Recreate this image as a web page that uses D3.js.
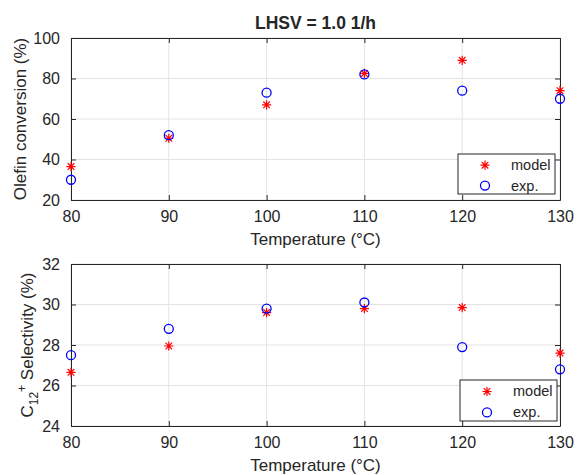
<!DOCTYPE html>
<html>
<head>
<meta charset="utf-8">
<script src="https://cdn.jsdelivr.net/npm/d3@7"></script>
<style>
  body { margin: 0; background: #fff; }
  text { font-family: "Liberation Sans", Arial, sans-serif; fill: #262626; }
</style>
</head>
<body>
<div id="chart-area"></div>
<script>
const temps = [80, 90, 100, 110, 120, 130];
const conversionModel = [36.5, 50.5, 67, 82.5, 89, 74];
const conversionExp = [30, 52, 73, 82, 74, 70];
const selectivityModel = [26.65, 27.95, 29.6, 29.8, 29.85, 27.6];
const selectivityExp = [27.5, 28.8, 29.8, 30.1, 27.9, 26.8];

const xTicks = [80, 90, 100, 110, 120, 130];
const conversionTicks = [20, 40, 60, 80, 100];
const selectivityTicks = [24, 26, 28, 30, 32];
const seriesNames = ['model', 'exp.'];

const W = 577, H = 475;
const left = 71, right = 560;

const svg = d3.select('#chart-area')
    .append('svg')
        .attr('width', W)
        .attr('height', H);

const x = d3.scaleLinear().domain([80, 130]).range([left, right]);

// eight-armed star like matlab's '*'
function starPath(r) {
    const d = r * 0.72;
    return `M${-r},0L${r},0M0,${-r}L0,${r}M${-d},${-d}L${d},${d}M${-d},${d}L${d},${-d}`;
}

function drawPanel(cfg) {
    const g = svg.append('g');
    const y = d3.scaleLinear().domain(cfg.domain).range([cfg.bottom, cfg.top]);

    // grid
    g.selectAll('.vgrid').data(xTicks).enter().append('line')
        .attr('x1', d => x(d)).attr('x2', d => x(d))
        .attr('y1', cfg.top).attr('y2', cfg.bottom)
        .attr('stroke', '#e3e3e3').attr('stroke-width', 1);
    g.selectAll('.hgrid').data(cfg.ticks).enter().append('line')
        .attr('x1', left).attr('x2', right)
        .attr('y1', d => y(d)).attr('y2', d => y(d))
        .attr('stroke', '#e3e3e3').attr('stroke-width', 1);

    // axes, ticks inside on every side
    const axes = [
        [d3.axisBottom(x).tickValues(xTicks), `translate(0,${cfg.bottom})`, true],
        [d3.axisTop(x).tickValues(xTicks), `translate(0,${cfg.top})`, false],
        [d3.axisLeft(y).tickValues(cfg.ticks), `translate(${left},0)`, true],
        [d3.axisRight(y).tickValues(cfg.ticks), `translate(${right},0)`, false]
    ];
    axes.forEach(([ax, tr, labels]) => {
        const a = g.append('g')
            .attr('transform', tr)
            .call(ax.tickSizeInner(-5).tickSizeOuter(0).tickPadding(labels ? 11 : 0));
        a.select('.domain').attr('stroke', '#262626').attr('stroke-width', 1);
        a.selectAll('.tick line').attr('stroke', '#262626');
        a.selectAll('text')
            .attr('font-size', '16px')
            .attr('fill', '#262626')
            .style('display', labels ? null : 'none');
    });
    g.selectAll('.tick text').attr('font-family', '"Liberation Sans", Arial, sans-serif');

    // markers
    g.selectAll('.model').data(cfg.model).enter().append('path')
        .attr('d', starPath(4.6))
        .attr('transform', (d, i) => `translate(${x(temps[i])},${y(d)})`)
        .attr('stroke', '#ff0000').attr('stroke-width', 1.2).attr('fill', 'none');
    g.selectAll('.exp').data(cfg.exp).enter().append('circle')
        .attr('cx', (d, i) => x(temps[i]))
        .attr('cy', d => y(d))
        .attr('r', 4.5)
        .attr('stroke', '#0000ff').attr('stroke-width', 1.3).attr('fill', 'none');

    // x label
    g.append('text')
        .attr('x', (left + right) / 2)
        .attr('y', cfg.bottom + 45)
        .attr('font-size', '17px')
        .attr('text-anchor', 'middle')
        .text('Temperature (°C)');

    // y label
    const yl = g.append('text')
        .attr('transform', `translate(${cfg.ylabelX},${(cfg.top + cfg.bottom) / 2}) rotate(-90)`)
        .attr('font-size', '17px')
        .attr('text-anchor', 'middle');
    cfg.ylabel(yl);

    // legend
    const lg = g.append('g').attr('transform', `translate(${cfg.legend[0]},${cfg.legend[1]})`);
    lg.append('rect')
        .attr('width', cfg.legend[2]).attr('height', cfg.legend[3])
        .attr('fill', '#fff').attr('stroke', '#262626').attr('stroke-width', 1);
    seriesNames.forEach((name, i) => {
        const cy = cfg.legend[3] * (i === 0 ? 0.28 : 0.79);
        if (i === 0) {
            lg.append('path').attr('d', starPath(4.6))
                .attr('transform', `translate(27,${cy})`)
                .attr('stroke', '#ff0000').attr('stroke-width', 1.2);
        } else {
            lg.append('circle').attr('cx', 27).attr('cy', cy).attr('r', 4.5)
                .attr('stroke', '#0000ff').attr('stroke-width', 1.3).attr('fill', 'none');
        }
        lg.append('text')
            .attr('x', 53).attr('y', cy + 5)
            .attr('font-size', '14.5px')
            .text(name);
    });
    return g;
}

drawPanel({
    top: 38, bottom: 200, domain: [20, 100], ticks: conversionTicks,
    model: conversionModel, exp: conversionExp,
    ylabelX: 26,
    ylabel: t => t.text('Olefin conversion (%)'),
    legend: [458, 154, 97, 40]
});

drawPanel({
    top: 264, bottom: 426, domain: [24, 32], ticks: selectivityTicks,
    model: selectivityModel, exp: selectivityExp,
    ylabelX: 33,
    ylabel: t => {
        t.append('tspan').text('C');
        t.append('tspan').attr('font-size', '12px').attr('dy', 5).text('12');
        t.append('tspan').attr('font-size', '12px').attr('dy', -12).text('+');
        t.append('tspan').attr('dy', 7).text(' Selectivity (%)');
    },
    legend: [460, 380, 97, 41]
});

// title
svg.append('text')
    .attr('x', (left + right) / 2)
    .attr('y', 29)
    .attr('font-size', '17.5px')
    .attr('font-weight', 'bold')
    .attr('text-anchor', 'middle')
    .attr('fill', '#000')
    .text('LHSV = 1.0 1/h');
</script>
</body>
</html>
